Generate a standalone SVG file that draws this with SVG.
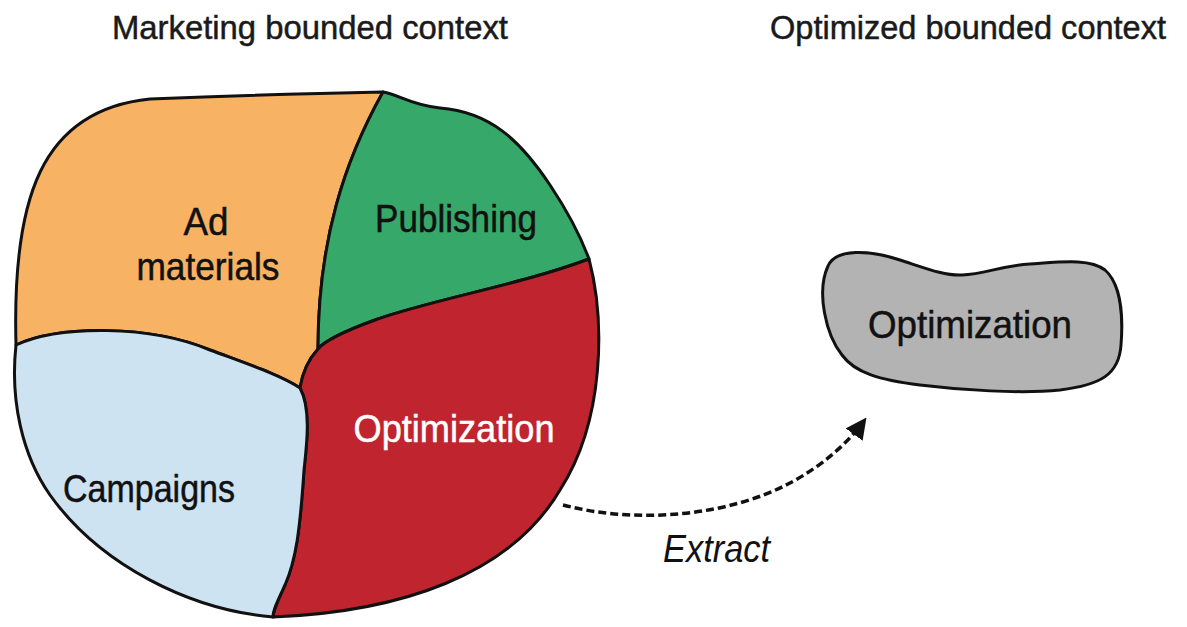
<svg xmlns="http://www.w3.org/2000/svg" width="1187" height="627" viewBox="0 0 1187 627">
<style>
.region{stroke:#111;stroke-width:3;stroke-linejoin:round}
.title{font-family:"Liberation Sans",Arial,sans-serif;font-size:34px;fill:#1a1a1a;stroke:#1a1a1a;stroke-width:0.5}
.lbl{font-family:"Liberation Sans",Arial,sans-serif;font-size:39px;fill:#111;stroke:#111;stroke-width:0.5;text-anchor:middle}
.conn{fill:none;stroke:#111;stroke-width:3.5;stroke-dasharray:8 4}
</style>
<defs>
<marker id="ah" viewBox="0 0 10 10" refX="8" refY="5" markerWidth="6" markerHeight="6" orient="auto" markerUnits="strokeWidth">
<path d="M0,0 L10,5 L0,10 Z" fill="#111"/>
</marker>
</defs>
<rect width="1187" height="627" fill="#fff"/>
<text class="title" x="112" y="39" textLength="396" lengthAdjust="spacingAndGlyphs">Marketing bounded context</text>
<text class="title" x="770" y="39" textLength="396" lengthAdjust="spacingAndGlyphs">Optimized bounded context</text>

<g id="ad-materials">
<path class="region" fill="#F8B263" d="M16,345 C 12,200 40,110 150,99 C 250,95 330,93 383,92 C 345,160 318,240 318,349 C 308,360 302,375 300,388 C 280,375 250,365 210,350 C 150,325 60,325 16,345 Z"/>
<text class="lbl" x="206" y="235" textLength="45" lengthAdjust="spacingAndGlyphs">Ad</text>
<text class="lbl" x="208" y="280" textLength="143" lengthAdjust="spacingAndGlyphs">materials</text>
</g>
<g id="publishing">
<path class="region" fill="#35A86A" d="M383,92 C 400,95 410,105 440,108 C 490,112 520,140 550,185 C 570,215 582,240 589,259 C 520,285 430,300 375,320 C 345,331 325,340 318,349 C 318,240 345,160 383,92 Z"/>
<text class="lbl" x="456" y="232" textLength="162" lengthAdjust="spacingAndGlyphs">Publishing</text>
</g>
<g id="optimization">
<path class="region" fill="#C0242E" d="M589,259 C 605,320 605,420 560,490 C 510,575 400,612 273,617 C 273,610 278,600 285,585 C 296,560 300,530 304,470 C 306,450 312,410 300,388 C 302,375 308,360 318,349 C 325,340 345,331 375,320 C 430,300 520,285 589,259 Z"/>
<text class="lbl" x="454" y="442" style="fill:#fff;stroke:#fff" textLength="201" lengthAdjust="spacingAndGlyphs">Optimization</text>
</g>
<g id="campaigns">
<path class="region" fill="#CDE3F1" d="M16,345 C 60,325 150,325 210,350 C 250,365 280,375 300,388 C 312,410 306,450 304,470 C 300,530 296,560 285,585 C 278,600 273,610 273,617 C 190,610 100,565 50,495 C 22,455 10,400 16,345 Z"/>
<text class="lbl" x="149" y="502" textLength="172" lengthAdjust="spacingAndGlyphs">Campaigns</text>
</g>
<g id="optimization-extracted">
<path class="region" fill="#B3B3B3" d="M828,266 C 836,248 870,250 900,260 C 925,268 945,276 962,275 C 985,274 1000,266 1030,264 C 1060,262 1090,258 1105,270 C 1122,285 1123,320 1121,345 C 1119,375 1100,385 1060,390 C 1020,394 960,390 920,385 C 880,380 855,373 842,355 C 826,335 816,292 828,266 Z"/>
<text class="lbl" x="970" y="338" textLength="204" lengthAdjust="spacingAndGlyphs">Optimization</text>
</g>
<g id="connectors">
<path class="conn" d="M563,505 C 640,525 730,515 790,483 C 822,466 848,443 864,421" marker-end="url(#ah)"/>
<text x="663" y="562" style="font-family:'Liberation Sans',Arial,sans-serif;font-size:38px;font-style:italic;fill:#111" textLength="107" lengthAdjust="spacingAndGlyphs">Extract</text>
</g>
</svg>
